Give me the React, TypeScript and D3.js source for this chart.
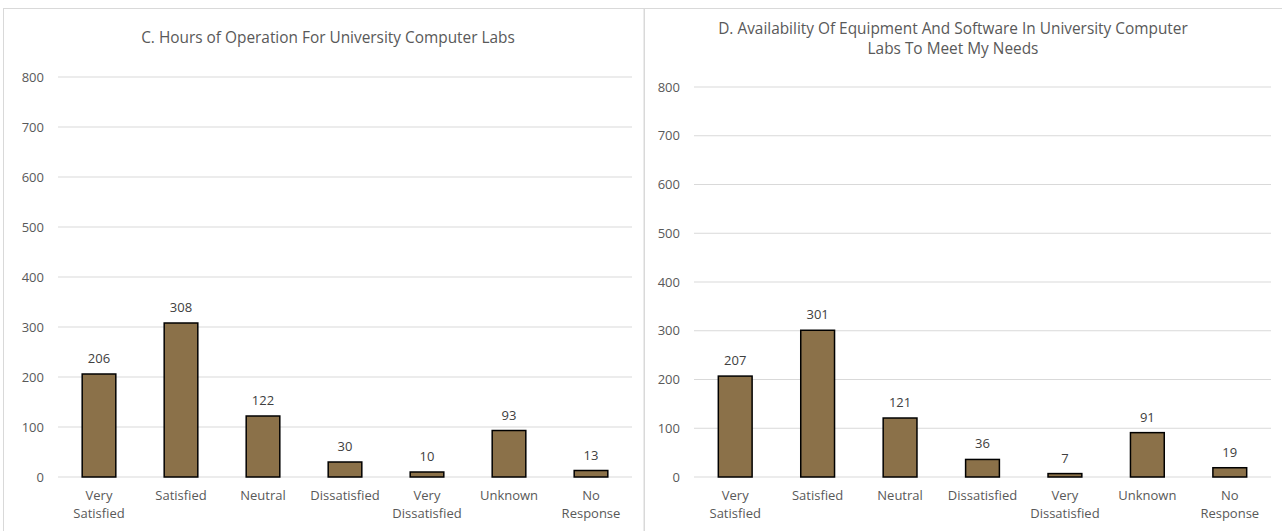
import React from "react";
import * as d3 from "d3";

const categories = ["Very Satisfied", "Satisfied", "Neutral", "Dissatisfied", "Very Dissatisfied", "Unknown", "No Response"];
const categoryLines = [["Very", "Satisfied"], ["Satisfied"], ["Neutral"], ["Dissatisfied"], ["Very", "Dissatisfied"], ["Unknown"], ["No", "Response"]];
const hoursValues = [206, 308, 122, 30, 10, 93, 13];
const availabilityValues = [207, 301, 121, 36, 7, 91, 19];
const yTicks = [0, 100, 200, 300, 400, 500, 600, 700, 800];
const titleC = ["C. Hours of Operation For University Computer Labs"];
const titleD = ["D. Availability Of Equipment And Software In University Computer", "Labs To Meet My Needs"];

const FONT = "'Open Sans', 'Noto Sans', sans-serif";
const BAR_FILL = "#8B7149";
const GRID = "#d9d9d9";
const TEXT = "#595959";

type PanelProps = {
  values: number[];
  title: string[];
  titleX: number;
  titleY: number;
  x0: number;
  x1: number;
  yTop: number;
  yBottom: number;
  tickX: number;
};

function Panel({ values, title, titleX, titleY, x0, x1, yTop, yBottom, tickX }: PanelProps) {
  const x = d3.scaleBand<string>().domain(categories).range([x0, x1]).paddingInner(0.59).paddingOuter(0.295);
  const y = d3.scaleLinear().domain([0, 800]).range([yBottom, yTop]);
  return (
    <g>
      {title.map((t, i) => (
        <text key={i} x={titleX} y={titleY + i * 20} textAnchor="middle" fontFamily={FONT} fontSize={15.4} fill={TEXT}>
          {t}
        </text>
      ))}
      {yTicks.map((t) => (
        <g key={t}>
          <line x1={x0} x2={x1} y1={y(t)} y2={y(t)} stroke={GRID} strokeWidth={1} />
          <text x={tickX} y={y(t) + 4.5} textAnchor="end" fontFamily={FONT} fontSize={13} fill={TEXT}>
            {t}
          </text>
        </g>
      ))}
      {categories.map((c, i) => (
        <g key={c}>
          <rect
            x={x(c)!}
            y={y(values[i])}
            width={x.bandwidth()}
            height={y(0) - y(values[i])}
            fill={BAR_FILL}
            stroke="#000"
            strokeWidth={1.5}
          />
          <text x={x(c)! + x.bandwidth() / 2} y={y(values[i]) - 11} textAnchor="middle" fontFamily={FONT} fontSize={13} fill="#404040">
            {values[i]}
          </text>
          {categoryLines[i].map((ln, j) => (
            <text key={j} x={x(c)! + x.bandwidth() / 2} y={yBottom + 23 + j * 18} textAnchor="middle" fontFamily={FONT} fontSize={13} fill={TEXT}>
              {ln}
            </text>
          ))}
        </g>
      ))}
    </g>
  );
}

export default function App() {
  return (
    <svg width={1282} height={531} style={{ position: "absolute", left: 0, top: 0, background: "#fff" }}>
      <rect x={0} y={0} width={1282} height={531} fill="#fff" />
      <rect x={3.5} y={8.5} width={640.5} height={540} fill="none" stroke={GRID} strokeWidth={1} />
      <rect x={644.5} y={8.5} width={650} height={540} fill="none" stroke={GRID} strokeWidth={1} />
      <Panel values={hoursValues} title={titleC} titleX={328} titleY={43} x0={58} x1={632} yTop={77} yBottom={477} tickX={44} />
      <Panel values={availabilityValues} title={titleD} titleX={953} titleY={34} x0={694} x1={1271} yTop={87} yBottom={477} tickX={680} />
    </svg>
  );
}
